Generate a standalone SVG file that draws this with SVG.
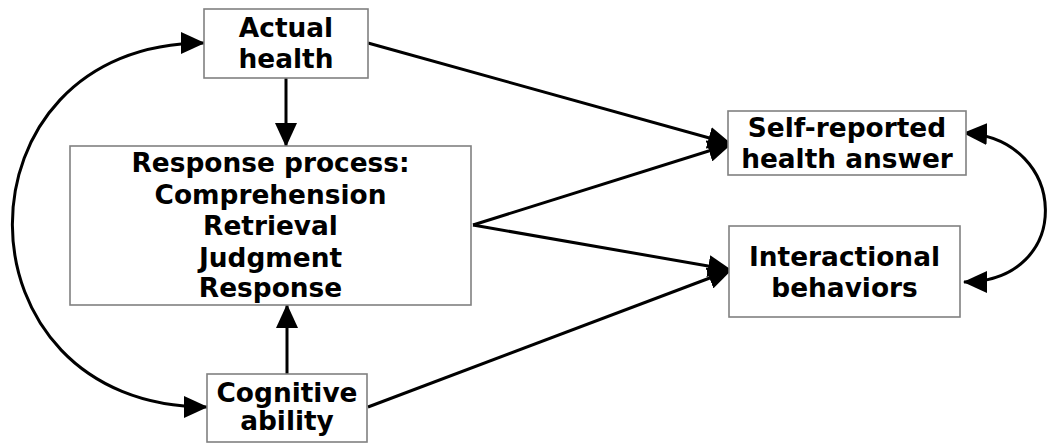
<svg xmlns="http://www.w3.org/2000/svg" width="1050" height="448" viewBox="0 0 1050 448">
<style>
.box{fill:#fff;stroke:#808080;stroke-width:1.6}
.t{font-family:"DejaVu Sans",Verdana,sans-serif;font-weight:bold;font-size:26.4px;fill:#000;text-anchor:middle}
.c{fill:none;stroke:#000;stroke-width:3}
</style>
<defs>
<marker id="ah" markerUnits="userSpaceOnUse" markerWidth="24" markerHeight="22" viewBox="0 0 24 22" refX="23" refY="11" orient="auto-start-reverse">
<path d="M0,0 L24,11 L0,22 Z" fill="#000"/>
</marker>
</defs>
<rect width="1050" height="448" fill="#fff"/>
<g id="connectors">
<line class="c" x1="286" y1="78" x2="286" y2="146" marker-end="url(#ah)"/>
<line class="c" x1="287" y1="374" x2="287" y2="305" marker-end="url(#ah)"/>
<line class="c" x1="368" y1="43" x2="731" y2="144" marker-end="url(#ah)"/>
<line class="c" x1="473" y1="225" x2="731" y2="144" marker-end="url(#ah)"/>
<line class="c" x1="473" y1="225" x2="731" y2="270" marker-end="url(#ah)"/>
<line class="c" x1="368" y1="407" x2="731" y2="270" marker-end="url(#ah)"/>
<path class="c" d="M204,43 C-52,43 -52,407 207,407" marker-start="url(#ah)" marker-end="url(#ah)"/>
<path class="c" d="M964,133 C1070,138 1075,282 964,282" marker-start="url(#ah)" marker-end="url(#ah)"/>
</g>
<g id="actual-health">
<rect class="box" x="204" y="9" width="164" height="69"/>
<text class="t" x="286" y="37">Actual</text>
<text class="t" x="286" y="68">health</text>
</g>
<g id="response-process">
<rect class="box" x="70" y="146" width="401" height="159"/>
<text class="t" x="270.5" y="172">Response process:</text>
<text class="t" x="270.5" y="203.5">Comprehension</text>
<text class="t" x="270.5" y="235">Retrieval</text>
<text class="t" x="270.5" y="266.5">Judgment</text>
<text class="t" x="270.5" y="297">Response</text>
</g>
<g id="cognitive-ability">
<rect class="box" x="207" y="374" width="160" height="68"/>
<text class="t" x="287" y="401.5">Cognitive</text>
<text class="t" x="287" y="430">ability</text>
</g>
<g id="self-reported">
<rect class="box" x="728" y="111" width="238" height="64"/>
<text class="t" x="847" y="137">Self-reported</text>
<text class="t" x="847" y="168">health answer</text>
</g>
<g id="interactional">
<rect class="box" x="729" y="226" width="231" height="91"/>
<text class="t" x="844.5" y="266">Interactional</text>
<text class="t" x="844.5" y="297">behaviors</text>
</g>
</svg>
